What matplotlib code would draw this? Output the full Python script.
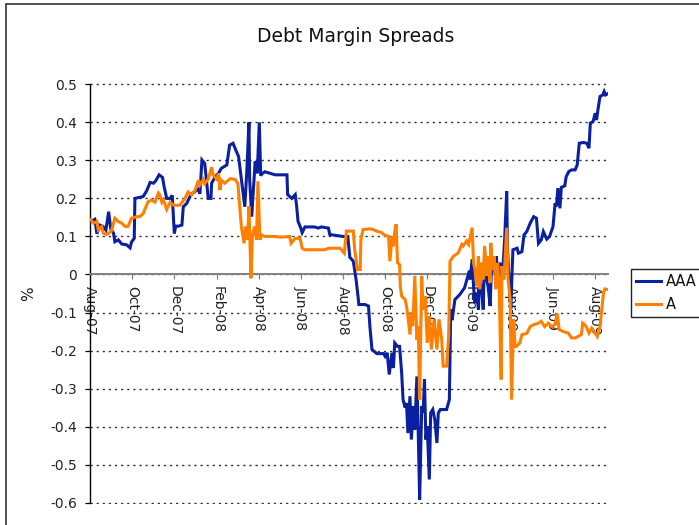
import numpy as np
import matplotlib
matplotlib.use('Agg')
import matplotlib.pyplot as plt
import matplotlib.dates as mdates
from matplotlib.patches import Rectangle

# ---------------- data ----------------
start_date = np.datetime64('2007-08-01')
end_offset_days = 750

# AAA series: (days since 2007-08-01, spread %)
aaa_days = [1, 7, 10, 14, 19, 23, 27, 30, 34, 36, 41, 46, 53, 58, 60, 64, 65, 72, 77, 82,
            87, 92, 95, 100, 105, 107, 111, 116, 119, 122, 124, 128, 133, 135, 140, 142, 146, 152, 157, 159,
            162, 166, 169, 171, 175, 176, 181, 186, 190, 198, 202, 207, 211, 215, 218, 224, 227, 230, 231, 234,
            239, 242, 245, 247, 249, 253, 268, 285, 286, 292, 297, 299, 301, 305, 307, 311, 325, 330, 335, 345,
            347, 366, 373, 376, 381, 385, 388, 389, 398, 403, 405, 408, 415, 425, 427, 430, 433, 437, 439, 441,
            445, 448, 451, 453, 456, 458, 460, 463, 465, 468, 470, 473, 475, 477, 480, 482, 484, 486, 488, 491,
            493, 496, 499, 502, 504, 507, 516, 520, 522, 524, 528, 535, 542, 549, 550, 553, 555, 557, 560, 562,
            564, 567, 569, 571, 574, 576, 579, 581, 583, 586, 588, 591, 593, 595, 598, 600, 603, 604, 606, 608,
            609, 611, 612, 618, 620, 625, 628, 632, 637, 642, 646, 649, 653, 656, 661, 665, 670, 673, 675, 677,
            680, 682, 687, 689, 693, 697, 702, 705, 708, 714, 719, 722, 724, 728, 731, 733, 735, 738, 742, 744,
            746, 750]
aaa_vals = [0.139, 0.145, 0.107, 0.130, 0.126, 0.117, 0.165, 0.120, 0.109, 0.086, 0.091, 0.080, 0.078, 0.070, 0.085, 0.095, 0.200, 0.203, 0.205, 0.220,
            0.242, 0.240, 0.246, 0.262, 0.255, 0.233, 0.200, 0.200, 0.208, 0.108, 0.127, 0.127, 0.130, 0.178, 0.187, 0.195, 0.210, 0.218, 0.225, 0.212,
            0.301, 0.292, 0.240, 0.200, 0.200, 0.240, 0.257, 0.266, 0.279, 0.288, 0.340, 0.345, 0.327, 0.310, 0.266, 0.178, 0.275, 0.400, 0.250, 0.152,
            0.297, 0.266, 0.400, 0.260, 0.265, 0.270, 0.262, 0.262, 0.210, 0.200, 0.210, 0.180, 0.140, 0.122, 0.110, 0.125, 0.125, 0.122, 0.125, 0.122,
            0.105, 0.100, 0.100, 0.045, 0.035, -0.013, -0.060, -0.079, -0.079, -0.083, -0.136, -0.197, -0.208, -0.208, -0.215, -0.206, -0.263, -0.206, -0.246, -0.180,
            -0.189, -0.189, -0.259, -0.329, -0.350, -0.338, -0.417, -0.320, -0.434, -0.346, -0.408, -0.268, -0.417, -0.592, -0.346, -0.364, -0.276, -0.434, -0.399, -0.539,
            -0.364, -0.355, -0.382, -0.443, -0.364, -0.355, -0.355, -0.329, -0.092, -0.120, -0.066, -0.053, -0.035, 0.010, -0.013, 0.040, -0.031, -0.075, -0.048, -0.092,
            -0.013, -0.039, -0.092, 0.057, -0.013, -0.031, -0.083, 0.022, 0.039, 0.004, 0.048, -0.031, 0.031, -0.004, 0.031, 0.092, 0.219, 0.075, -0.004, -0.057,
            -0.090, 0.020, 0.065, 0.069, 0.056, 0.060, 0.104, 0.113, 0.135, 0.152, 0.148, 0.082, 0.091, 0.113, 0.093, 0.100, 0.126, 0.187, 0.179, 0.227,
            0.174, 0.229, 0.233, 0.257, 0.271, 0.275, 0.275, 0.288, 0.345, 0.347, 0.345, 0.332, 0.398, 0.402, 0.424, 0.406, 0.433, 0.468, 0.472, 0.481,
            0.472, 0.476]

# A series: (days since 2007-08-01, spread %)
a_days = [1, 5, 10, 12, 17, 19, 24, 31, 36, 41, 46, 51, 55, 60, 68, 72, 77, 80, 84, 89,
          94, 99, 101, 104, 106, 108, 111, 116, 121, 130, 137, 142, 147, 152, 157, 159, 164, 166, 171, 176,
          178, 183, 186, 188, 190, 195, 203, 210, 214, 217, 219, 223, 225, 228, 230, 233, 235, 238, 241, 243,
          246, 248, 253, 268, 276, 289, 291, 297, 304, 307, 311, 325, 340, 345, 362, 368, 371, 381, 383, 387,
          391, 392, 395, 405, 410, 415, 422, 427, 432, 434, 437, 439, 441, 443, 445, 448, 449, 451, 456, 458,
          460, 463, 465, 467, 470, 473, 475, 477, 480, 482, 485, 488, 491, 494, 498, 502, 505, 509, 511, 516,
          519, 521, 526, 533, 538, 540, 545, 548, 553, 555, 557, 560, 562, 564, 567, 569, 571, 574, 576, 579,
          580, 582, 585, 587, 590, 592, 595, 596, 599, 603, 605, 608, 610, 613, 615, 617, 622, 625, 632, 637,
          642, 649, 653, 658, 663, 668, 673, 676, 679, 685, 692, 697, 702, 706, 711, 713, 716, 719, 722, 726,
          731, 734, 738, 743, 745, 750]
a_vals = [0.144, 0.135, 0.139, 0.117, 0.126, 0.109, 0.105, 0.114, 0.148, 0.139, 0.135, 0.126, 0.126, 0.148, 0.152, 0.152, 0.160, 0.174, 0.191, 0.196,
          0.190, 0.214, 0.209, 0.190, 0.196, 0.187, 0.171, 0.190, 0.182, 0.182, 0.199, 0.217, 0.209, 0.221, 0.248, 0.235, 0.250, 0.239, 0.250, 0.282,
          0.262, 0.251, 0.266, 0.222, 0.248, 0.240, 0.252, 0.250, 0.239, 0.170, 0.126, 0.082, 0.126, 0.091, 0.179, -0.010, 0.100, 0.126, 0.091, 0.245,
          0.091, 0.104, 0.100, 0.100, 0.098, 0.100, 0.082, 0.095, 0.095, 0.069, 0.065, 0.065, 0.065, 0.069, 0.069, 0.056, 0.114, 0.114, 0.066, 0.013,
          0.013, 0.092, 0.118, 0.120, 0.118, 0.114, 0.110, 0.103, 0.100, 0.035, 0.100, 0.074, 0.114, 0.132, 0.031, 0.026, -0.031, -0.057, -0.066, -0.083,
          -0.110, -0.158, -0.100, -0.136, -0.004, -0.171, -0.136, -0.329, -0.004, -0.092, -0.057, -0.180, -0.109, -0.197, -0.118, -0.197, -0.118, -0.171, -0.241, -0.241,
          -0.162, 0.035, 0.048, 0.057, 0.079, 0.075, 0.088, 0.079, 0.123, 0.031, 0.013, -0.031, 0.048, -0.039, 0.031, -0.013, 0.075, -0.004, 0.048, -0.022,
          0.083, 0.013, 0.048, -0.039, 0.031, -0.031, -0.276, 0.022, -0.013, 0.123, -0.013, -0.066, -0.329, -0.118, -0.189, -0.189, -0.180, -0.158, -0.155, -0.137,
          -0.132, -0.128, -0.123, -0.137, -0.128, -0.137, -0.132, -0.102, -0.145, -0.150, -0.154, -0.167, -0.167, -0.163, -0.158, -0.128, -0.132, -0.141, -0.154, -0.141,
          -0.154, -0.163, -0.137, -0.049, -0.038, -0.040]

series_names = ['AAA', 'A']
series_colors = ['#0B20A0', '#FF8000']
y_ticks = [0.5, 0.4, 0.3, 0.2, 0.1, 0.0, -0.1, -0.2, -0.3, -0.4, -0.5, -0.6]
y_tick_labels = ['0.5', '0.4', '0.3', '0.2', '0.1', '0', '-0.1', '-0.2', '-0.3', '-0.4', '-0.5', '-0.6']
title_text = 'Debt Margin Spreads'
y_label = '%'

# ---------------- figure ----------------
W, H = 699, 525
fig = plt.figure(figsize=(W / 100, H / 100), dpi=100)
fig.patch.set_facecolor('white')

# chart-area border (extends beyond the visible picture on right/bottom)
fig.add_artist(Rectangle((5.5 / W, -0.2), 1.5, 1 - 3.5 / H + 0.2, transform=fig.transFigure,
                         fill=False, edgecolor='#333333', linewidth=1.2))

ax = fig.add_axes([90 / W, 1 - 503.5 / H, (608.3 - 90) / W, (503.5 - 83.5) / H])

aaa_x = start_date + np.array(aaa_days, dtype='timedelta64[D]')
a_x = start_date + np.array(a_days, dtype='timedelta64[D]')

ax.plot(aaa_x, aaa_vals, color=series_colors[0], lw=2.2, label=series_names[0], zorder=3,
        solid_joinstyle='miter')
ax.plot(a_x, a_vals, color=series_colors[1], lw=2.2, label=series_names[1], zorder=4,
        solid_joinstyle='miter')

ax.set_xlim(start_date, start_date + np.timedelta64(end_offset_days, 'D'))
ax.set_ylim(-0.6021, 0.5021)

ax.set_yticks(y_ticks)
ax.set_yticklabels(y_tick_labels)

ax.xaxis.set_major_locator(mdates.MonthLocator(bymonth=[2, 4, 6, 8, 10, 12]))
ax.xaxis.set_major_formatter(mdates.DateFormatter('%b-%y'))

# grid
ax.yaxis.grid(True, linestyle=(0, (1.6, 2.8)), color='#333333', linewidth=1.0)
ax.set_axisbelow(True)

# spines
for s in ['top', 'right']:
    ax.spines[s].set_visible(False)
ax.spines['left'].set_color('black')
ax.spines['left'].set_linewidth(1.0)
ax.spines['left'].set_bounds(-0.6, 0.5)
ax.spines['bottom'].set_position(('data', 0))
ax.spines['bottom'].set_color('#808080')
ax.spines['bottom'].set_linewidth(1.4)

ax.tick_params(axis='y', direction='out', length=3.6, width=0.9, color='black',
               labelsize=10, labelcolor='#222222', pad=5.5)
ax.tick_params(axis='x', direction='out', length=3.6, width=0.9, color='#808080',
               labelsize=10, labelcolor='#222222', pad=4.5)
for lab in ax.get_xticklabels():
    lab.set_rotation(270)
    lab.set_ha('center')
    lab.set_va('top')

# title and y label
fig.text(356 / W, 1 - 37 / H, title_text, ha='center', va='center', fontsize=13.5, color='#111111')
fig.text(28.5 / W, 1 - 294 / H, y_label, ha='center', va='center', rotation=90, fontsize=11,
         color='#222222')

# legend
leg = ax.legend(loc='upper left', bbox_to_anchor=(630.7 / W, 1 - 269 / H),
                bbox_transform=fig.transFigure, frameon=True, fancybox=False,
                edgecolor='#222222', framealpha=1, borderaxespad=0, fontsize=10.5,
                handlelength=1.75, handletextpad=0.3, borderpad=0.35, labelspacing=0.55)
leg.get_frame().set_linewidth(1.0)
for t in leg.get_texts():
    t.set_color('#111111')

fig.savefig('out.png', dpi=100)
